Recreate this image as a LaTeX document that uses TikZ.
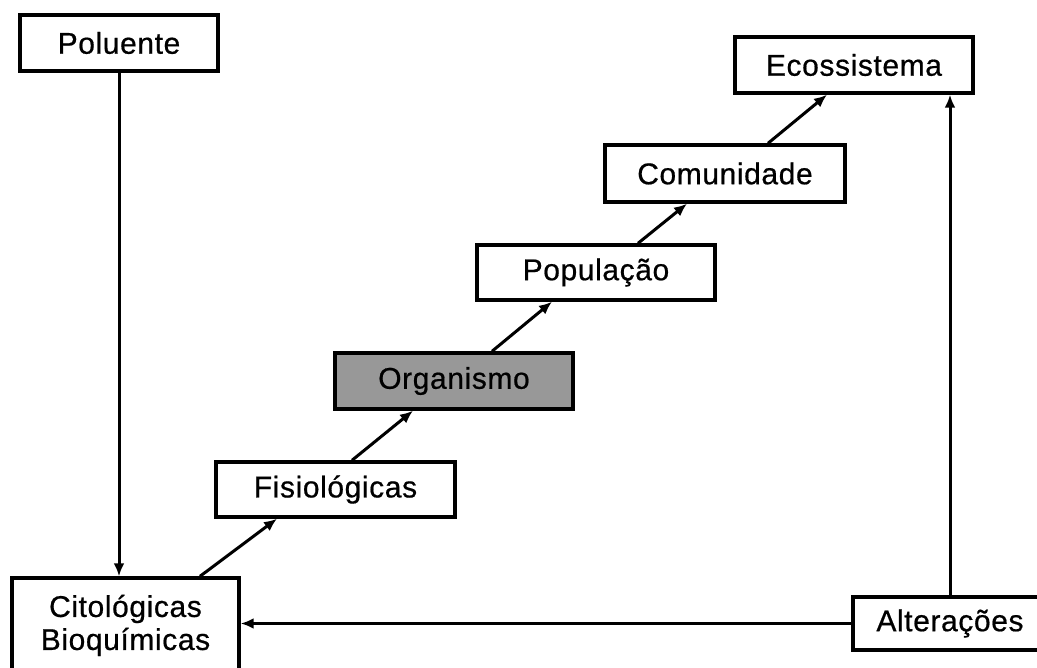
\documentclass[tikz,border=0pt]{standalone}
\usepackage{fontspec}
\setmainfont[LetterSpace=2,FakeBold=0.6]{Liberation Sans}
\usetikzlibrary{arrows.meta,calc}
\definecolor{orggray}{RGB}{152,152,152}
\begin{document}
\begin{tikzpicture}[x=1pt,y=-1pt,
  box/.style={draw=black,line width=3.4pt,fill=white,inner sep=0pt,
    font=\fontsize{30}{33}\selectfont,align=center},
  arr/.style={line width=3pt,-{Latex[length=13pt,width=11pt]}}]
\useasboundingbox (0,0) rectangle (1037,668);
\clip (0,0) rectangle (1037,668);
\node[box,minimum width=198pt,minimum height=56pt] (pol) at (119,43) {Poluente};
\node[box,minimum width=227pt,minimum height=95pt] (cit) at (125.5,625.5) {Citológicas\\Bioquímicas};
\node[box,minimum width=239pt,minimum height=55pt] (fis) at (335.5,489.5) {Fisiológicas};
\node[box,fill=orggray,minimum width=238pt,minimum height=56pt] (org) at (454,381) {Organismo};
\node[box,minimum width=238pt,minimum height=55pt] (pop) at (596,272.5) {População};
\node[box,minimum width=240pt,minimum height=57pt] (com) at (725,173.5) {Comunidade};
\node[box,minimum width=238pt,minimum height=56pt] (eco) at (854,65) {Ecossistema};
\node[box,minimum width=194pt,minimum height=53pt] (alt) at (950,623.5) {Alterações};
\draw[arr] (pol.south) -- (cit.north -| pol.south);
\draw[arr] ([xshift=74.5pt]cit.north) -- ([xshift=-58.5pt]fis.south);
\draw[arr] ([xshift=16.5pt]fis.north) -- ([xshift=-41pt]org.south);
\draw[arr] ([xshift=38pt]org.north) -- ([xshift=-44pt]pop.south);
\draw[arr] ([xshift=42pt]pop.north) -- ([xshift=-38pt]com.south);
\draw[arr] ([xshift=43pt]com.north) -- ([xshift=-27pt]eco.south);
\draw[arr] (alt.north) -- (alt.north |- eco.south);
\draw[arr] (alt.west) -- (alt.west -| cit.east);
\end{tikzpicture}
\end{document}
